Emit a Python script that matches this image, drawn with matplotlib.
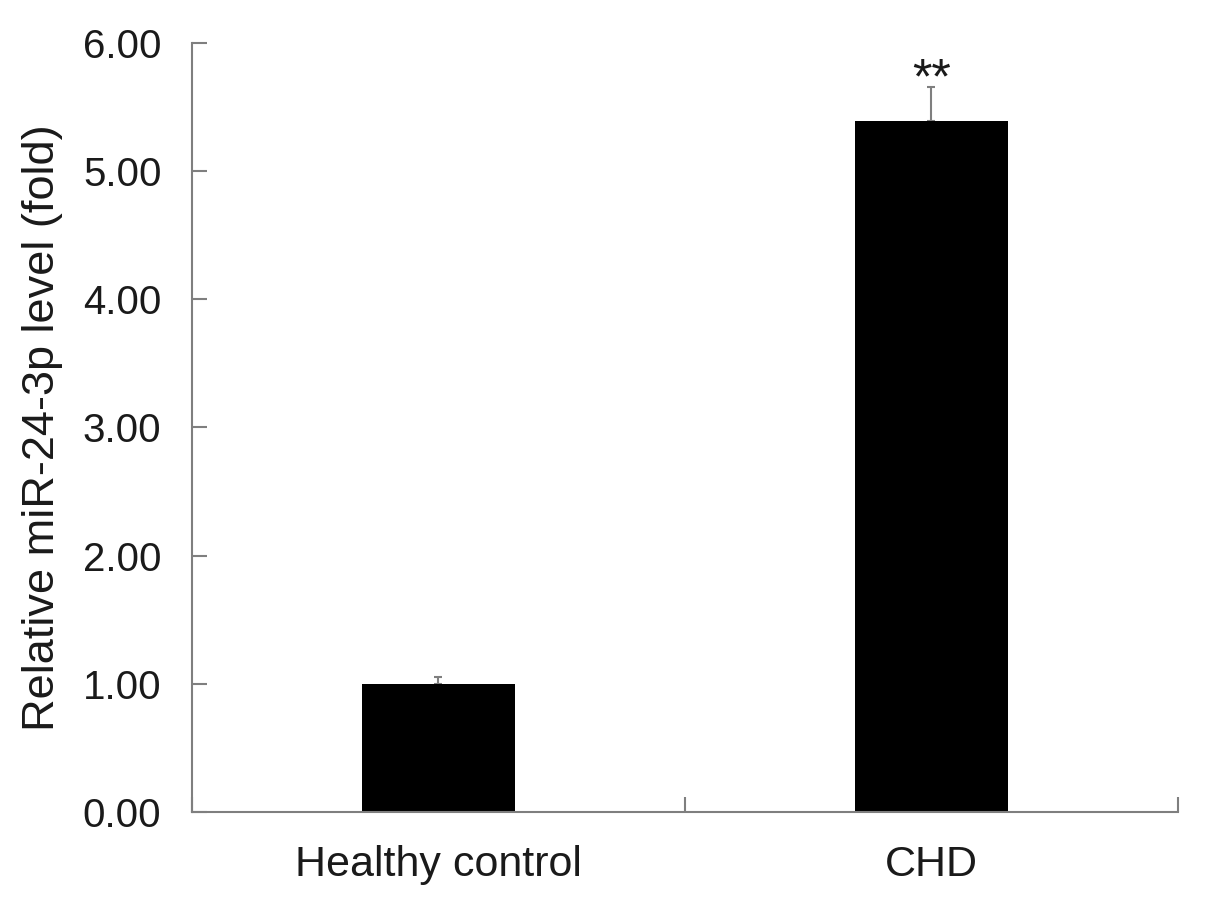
import matplotlib
matplotlib.use("Agg")
import matplotlib.pyplot as plt
import numpy as np

categories = ["Healthy control", "CHD"]
values = [1.00, 5.39]
errors = [0.05, 0.27]
sig = ["", "**"]
yticks = [0, 1, 2, 3, 4, 5, 6]

plt.rcParams['font.family'] = ['Liberation Sans', 'DejaVu Sans']
fig = plt.figure(figsize=(12.05, 9.14), dpi=100)
ax = fig.add_axes([0.1593, 0.1116, 0.9776 - 0.1593, 0.953 - 0.1116])

x = np.arange(len(categories))
gray = '#7f7f7f'
txt = '#1a1a1a'
ax.bar(x, values, width=0.31, color='black', zorder=2)
ax.errorbar(x, values, yerr=[np.zeros(len(values)), errors], fmt='none',
            ecolor=gray, elinewidth=1.5, capsize=3, capthick=1.5, zorder=1)
for xi, v, e, s in zip(x, values, errors, sig):
    if s:
        ax.text(xi, v + e - 0.05, s, ha='center', va='baseline', fontsize=36, color=txt)

ax.set_xlim(-0.5, 1.5)
ax.set_ylim(0, 6)
ax.set_yticks(yticks)
ax.set_yticklabels([f"{t:.2f}" for t in yticks])
ax.set_xticks(x)
ax.set_xticklabels(categories)
ax.set_xticks([-0.5, 0.5, 1.5], minor=True)
ax.tick_params(axis='x', which='major', length=0, labelsize=31, pad=24, labelcolor=txt)
ax.tick_params(axis='x', which='minor', direction='in', length=11, width=1.5, color=gray)
ax.tick_params(axis='y', direction='in', length=11, width=1.5, color=gray, labelsize=29, pad=22, labelcolor=txt)
for sp in ['top', 'right']:
    ax.spines[sp].set_visible(False)
for sp in ['left', 'bottom']:
    ax.spines[sp].set_color(gray)
    ax.spines[sp].set_linewidth(1.5)
ax.set_ylabel("Relative miR-24-3p level (fold)", fontsize=32.5, color=txt, labelpad=14)

fig.savefig("out.png", dpi=100)
